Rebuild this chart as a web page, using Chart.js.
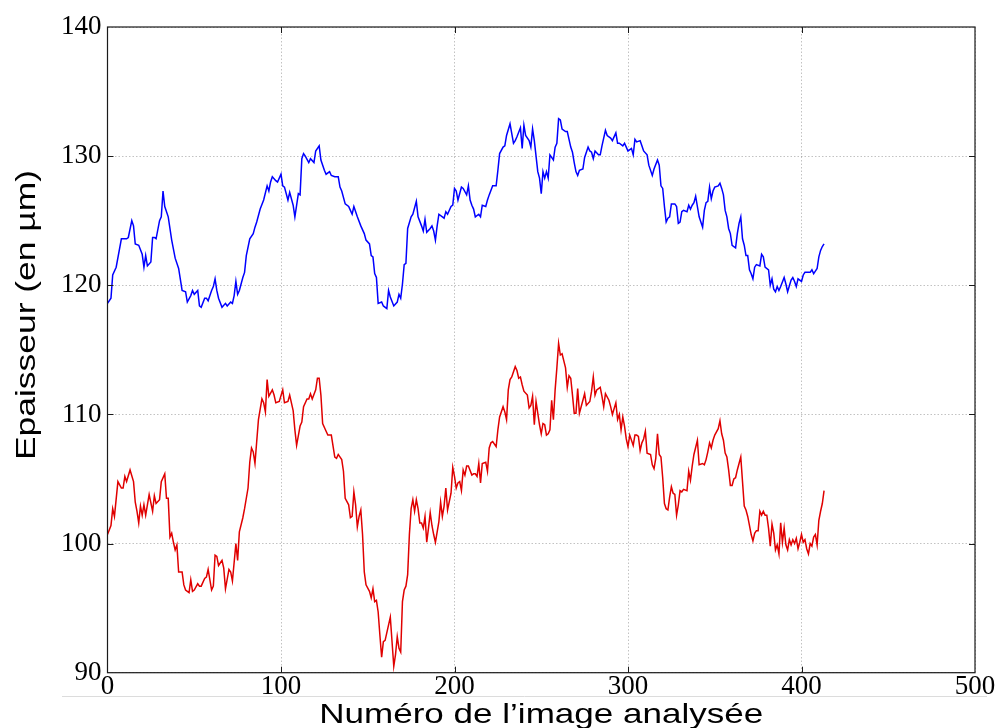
<!DOCTYPE html>
<html>
<head>
<meta charset="utf-8">
<script src="https://cdn.jsdelivr.net/npm/chart.js@4.4.1/dist/chart.umd.min.js"></script>
<style>
  html, body { margin: 0; padding: 0; background: #fff; }
  #wrap { position: relative; width: 995px; height: 728px; }
</style>
</head>
<body>
<div id="wrap"><canvas id="epaisseurChart"></canvas></div>
<script>
// Courbe bleue : numéro d'image et épaisseur (µm)
const imagesBleu = [
  0, 2, 3, 5, 8, 11, 12, 14, 15, 16,
  18, 20, 21, 22, 23, 25, 26, 27, 28, 30,
  31, 32, 33, 35, 37, 39, 41, 43, 45, 46,
  48, 49, 50, 52, 53, 54, 56, 57, 58, 60,
  61, 62, 63, 64, 66, 68, 69, 71, 72, 73,
  74, 75, 76, 78, 79, 80, 82, 84, 85, 86,
  88, 90, 92, 93, 94, 95, 97, 98, 100, 101,
  102, 104, 105, 107, 108, 110, 111, 112, 113, 114,
  116, 117, 119, 120, 122, 123, 125, 126, 128, 129,
  131, 133, 134, 135, 137, 139, 140, 141, 142, 144,
  146, 148, 149, 151, 152, 153, 154, 155, 156, 158,
  159, 161, 162, 163, 165, 167, 168, 169, 170, 171,
  172, 173, 175, 176, 178, 179, 181, 182, 183, 184,
  186, 187, 188, 189, 190, 191, 193, 194, 195, 196,
  198, 199, 200, 201, 202, 204, 205, 207, 208, 209,
  210, 211, 212, 214, 215, 216, 218, 219, 220, 222,
  224, 225, 226, 228, 229, 230, 232, 234, 235, 236,
  238, 239, 240, 241, 243, 244, 245, 246, 248, 249,
  250, 251, 252, 253, 254, 255, 257, 258, 259, 260,
  261, 262, 264, 265, 267, 268, 269, 270, 271, 272,
  274, 275, 277, 278, 279, 280, 281, 283, 284, 285,
  287, 288, 290, 291, 293, 294, 295, 297, 298, 299,
  300, 302, 303, 304, 305, 307, 308, 309, 311, 312,
  314, 315, 317, 318, 319, 320, 321, 322, 323, 324,
  325, 327, 328, 329, 330, 331, 332, 334, 335, 336,
  337, 338, 339, 340, 341, 343, 344, 345, 346, 347,
  348, 349, 350, 352, 353, 354, 355, 356, 357, 358,
  359, 360, 362, 363, 364, 365, 366, 367, 368, 369,
  370, 371, 372, 373, 374, 376, 377, 378, 379, 381,
  382, 383, 384, 385, 386, 387, 388, 390, 391, 392,
  394, 395, 396, 397, 398, 400, 401, 402, 404, 405,
  406, 407, 408, 409, 410, 411, 412, 413
];
const epaisseurBleu = [
  118.6, 119.0, 120.8, 121.4, 123.6, 123.6, 123.7, 125.0, 124.6, 123.2,
  123.1, 122.4, 121.4, 122.3, 121.5, 121.8, 123.7, 123.7, 123.6, 125.0,
  125.3, 127.3, 126.1, 125.3, 123.5, 122.1, 121.3, 119.6, 119.5, 118.7,
  119.2, 119.6, 119.3, 119.6, 118.4, 118.3, 119.0, 119.0, 118.8, 119.6,
  119.9, 120.5, 119.6, 119.0, 118.3, 118.6, 118.4, 118.7, 118.6, 119.2,
  120.3, 119.3, 119.6, 120.6, 121.0, 122.3, 123.6, 124.0, 124.5, 124.9,
  125.9, 126.6, 127.7, 127.3, 128.0, 128.4, 128.1, 128.0, 128.6, 127.7,
  127.6, 126.6, 127.2, 126.2, 125.3, 127.1, 127.0, 129.8, 130.2, 130.0,
  129.5, 129.8, 129.5, 130.4, 130.8, 129.7, 128.9, 128.6, 128.8, 128.5,
  128.4, 128.4, 127.6, 127.3, 126.3, 126.1, 125.8, 125.5, 126.1, 125.3,
  124.6, 124.0, 123.5, 123.2, 122.3, 122.2, 120.9, 120.6, 118.6, 118.7,
  118.4, 118.2, 119.6, 119.1, 118.4, 118.7, 119.3, 119.0, 120.1, 121.6,
  121.7, 124.4, 125.3, 125.5, 126.5, 125.3, 124.6, 124.2, 125.1, 124.1,
  124.4, 124.6, 124.2, 123.5, 124.6, 125.5, 125.3, 125.2, 125.7, 125.5,
  126.1, 126.2, 127.5, 127.3, 126.6, 127.6, 127.5, 127.0, 127.7, 126.6,
  126.2, 125.9, 125.3, 125.5, 125.3, 126.2, 126.1, 126.6, 127.0, 127.7,
  127.7, 128.9, 130.2, 130.7, 130.8, 131.6, 132.5, 131.0, 131.2, 131.5,
  132.2, 130.6, 132.4, 131.6, 131.2, 130.7, 132.1, 131.2, 128.8, 128.3,
  127.1, 128.8, 128.3, 128.8, 128.3, 130.1, 129.7, 130.7, 131.0, 132.9,
  132.8, 132.1, 131.9, 131.9, 130.7, 130.3, 129.5, 128.8, 128.5, 128.9,
  129.0, 129.9, 130.7, 130.4, 130.3, 129.8, 130.4, 130.1, 130.1, 130.8,
  132.0, 131.6, 131.4, 131.2, 131.8, 131.0, 131.0, 130.8, 131.0, 130.7,
  130.4, 130.6, 130.1, 131.3, 131.1, 131.2, 130.8, 130.4, 130.1, 129.3,
  128.5, 129.0, 129.7, 129.3, 127.7, 127.5, 126.1, 124.9, 125.2, 125.3,
  126.3, 126.3, 126.1, 124.8, 124.9, 125.7, 125.8, 125.7, 126.2, 125.9,
  126.2, 126.4, 126.9, 126.1, 125.3, 124.5, 125.8, 126.4, 126.5, 127.6,
  126.7, 127.3, 127.6, 127.7, 127.9, 127.5, 127.0, 125.8, 125.3, 124.4,
  124.0, 123.1, 122.9, 124.0, 124.8, 125.3, 123.6, 123.1, 122.3, 122.3,
  121.2, 120.9, 120.5, 121.4, 121.6, 121.5, 122.4, 122.2, 121.4, 121.2,
  120.0, 120.5, 119.7, 119.5, 119.9, 119.6, 119.9, 120.6, 120.1, 119.5,
  120.4, 120.6, 120.3, 119.9, 120.5, 120.3, 120.8, 121.0, 121.0, 121.0,
  121.2, 120.9, 121.1, 121.3, 122.2, 122.7, 123.0, 123.2
];

// Courbe rouge : numéro d'image et épaisseur (µm)
const imagesRouge = [
  0, 2, 3, 4, 6, 8, 9, 10, 11, 13,
  15, 16, 17, 18, 19, 20, 21, 22, 23, 24,
  26, 27, 28, 30, 31, 33, 34, 35, 36, 37,
  38, 39, 40, 41, 43, 44, 45, 47, 48, 49,
  50, 52, 53, 54, 56, 57, 58, 60, 61, 62,
  63, 64, 66, 67, 68, 70, 71, 72, 74, 75,
  76, 78, 79, 81, 82, 83, 84, 85, 86, 87,
  89, 90, 91, 92, 93, 95, 96, 97, 99, 101,
  102, 104, 105, 107, 108, 109, 111, 112, 113, 115,
  116, 117, 118, 120, 121, 122, 123, 124, 126, 127,
  129, 131, 132, 133, 135, 136, 137, 139, 140, 141,
  142, 143, 144, 145, 146, 147, 148, 149, 151, 152,
  153, 154, 155, 156, 157, 158, 159, 160, 161, 163,
  164, 165, 166, 167, 168, 169, 170, 171, 172, 173,
  174, 175, 176, 177, 178, 179, 180, 181, 182, 183,
  184, 185, 186, 187, 188, 189, 191, 192, 193, 194,
  195, 196, 198, 199, 200, 201, 202, 203, 204, 205,
  206, 207, 208, 210, 211, 212, 213, 214, 215, 216,
  218, 219, 220, 221, 222, 224, 225, 226, 228, 229,
  230, 231, 232, 233, 235, 236, 237, 238, 239, 240,
  242, 243, 244, 245, 246, 247, 249, 250, 251, 252,
  253, 254, 255, 256, 257, 258, 259, 260, 261, 262,
  264, 265, 266, 267, 268, 269, 270, 271, 272, 274,
  275, 276, 278, 279, 280, 281, 282, 284, 285, 286,
  287, 289, 290, 291, 293, 294, 295, 296, 297, 298,
  299, 300, 301, 303, 304, 305, 306, 307, 308, 309,
  310, 311, 313, 314, 315, 316, 317, 318, 319, 320,
  321, 322, 323, 324, 325, 326, 327, 328, 329, 330,
  331, 332, 334, 335, 336, 337, 338, 340, 341, 343,
  344, 345, 346, 347, 348, 349, 350, 352, 353, 354,
  355, 356, 357, 358, 359, 360, 361, 362, 363, 364,
  365, 366, 367, 368, 369, 370, 371, 372, 373, 374,
  375, 376, 377, 378, 379, 380, 381, 382, 383, 384,
  385, 386, 387, 388, 389, 390, 391, 392, 393, 394,
  395, 396, 397, 398, 399, 400, 401, 402, 403, 404,
  405, 406, 407, 408, 409, 410, 411, 412, 413
];
const epaisseurRouge = [
  100.7, 101.4, 102.7, 102.1, 104.8, 104.3, 104.3, 105.2, 104.8, 105.7,
  104.8, 103.2, 102.5, 101.6, 102.9, 102.2, 103.0, 102.2, 103.0, 103.8,
  102.5, 103.7, 103.1, 103.4, 104.8, 105.4, 103.5, 103.5, 100.5, 100.8,
  100.1, 99.5, 99.9, 97.8, 97.8, 96.8, 96.4, 96.2, 97.2, 96.3,
  96.4, 96.9, 96.7, 96.7, 97.3, 97.4, 98.0, 96.4, 96.7, 99.1,
  99.0, 98.3, 98.7, 98.1, 96.5, 98.0, 97.8, 97.1, 100.0, 98.7,
  100.9, 102.0, 102.7, 104.3, 106.3, 107.4, 107.1, 106.2, 107.9, 109.6,
  111.2, 110.9, 110.2, 112.7, 111.4, 111.9, 111.5, 110.9, 111.0, 111.9,
  110.9, 111.0, 111.5, 110.3, 108.8, 107.6, 109.1, 109.4, 110.6, 111.2,
  111.2, 111.6, 111.2, 111.9, 112.8, 112.8, 111.5, 109.3, 108.7, 108.4,
  108.4, 106.7, 106.6, 106.9, 106.5, 105.6, 103.5, 103.0, 102.0, 102.1,
  104.0, 103.0, 101.3, 102.1, 102.6, 100.7, 97.8, 96.8, 96.3, 95.8,
  96.5, 95.5, 95.6, 94.7, 92.9, 91.2, 92.4, 92.5, 93.1, 94.3,
  92.4, 90.5, 91.4, 92.8, 91.9, 91.6, 95.5, 96.4, 96.7, 97.6,
  100.7, 102.7, 103.4, 102.5, 103.4, 102.7, 101.6, 101.6, 101.2, 102.1,
  100.1, 101.2, 102.4, 101.4, 100.7, 100.1, 101.7, 103.2, 102.1, 102.9,
  104.3, 102.6, 103.9, 105.9, 105.2, 104.3, 104.7, 104.8, 104.1, 105.7,
  105.3, 106.0, 106.0, 105.3, 105.4, 105.4, 105.2, 106.2, 104.7, 106.2,
  106.3, 105.6, 107.4, 107.8, 107.9, 107.5, 108.8, 109.8, 110.6, 110.2,
  109.6, 111.9, 112.7, 112.9, 113.7, 113.4, 112.8, 112.9, 112.3, 111.8,
  111.5, 110.5, 110.7, 111.4, 109.2, 111.0, 109.2, 108.5, 109.3, 109.2,
  108.4, 108.5, 108.8, 111.1, 109.6, 111.9, 113.6, 115.5, 114.6, 114.7,
  113.6, 112.1, 113.0, 112.8, 111.5, 110.1, 110.1, 112.0, 110.1, 111.1,
  111.6, 110.7, 111.0, 111.8, 112.9, 111.5, 111.9, 112.1, 111.4, 110.6,
  111.6, 111.1, 110.6, 110.0, 110.9, 109.6, 110.0, 108.8, 109.8, 109.1,
  108.1, 107.5, 108.4, 107.6, 108.4, 108.4, 108.3, 107.2, 107.8, 108.1,
  108.7, 107.0, 106.9, 106.1, 105.8, 106.6, 108.5, 106.9, 106.7, 105.1,
  103.1, 102.7, 102.6, 103.6, 104.4, 103.9, 103.8, 102.2, 103.0, 104.1,
  104.0, 104.2, 104.1, 105.6, 104.9, 106.0, 106.9, 108.0, 106.1, 106.2,
  106.1, 106.5, 107.1, 107.8, 107.4, 108.0, 108.4, 108.9, 109.5, 108.5,
  108.0, 107.0, 106.7, 105.7, 104.5, 104.5, 105.0, 105.1, 105.7, 106.2,
  106.7, 104.8, 102.9, 102.6, 102.1, 101.4, 100.7, 100.2, 100.8, 101.0,
  101.0, 102.5, 102.2, 102.5, 102.2, 102.2, 101.2, 99.8, 101.5, 100.8,
  99.5, 99.9, 99.2, 101.6, 100.1, 101.2, 99.9, 99.5, 100.3, 99.9,
  100.3, 100.0, 100.4, 99.6, 100.1, 100.7, 100.1, 100.3, 99.6, 99.2,
  100.0, 99.8, 100.5, 100.7, 99.9, 101.8, 102.5, 103.1, 104.1
];

// Graduations et titres
const ticksX = [0, 100, 200, 300, 400, 500];
const ticksY = [90, 100, 110, 120, 130, 140];
const titreX = 'Numéro de l’image analysée';
const titreY = 'Epaisseur (en µm)';

const toPoints = (xs, ys) => xs.map((x, i) => ({ x: x, y: ys[i] }));

// Cadre noir, graduations vers l'intérieur et titres des axes (style matplotlib)
const cadrePlugin = {
    id: 'cadre',
    afterDatasetsDraw(chart) {
        const { ctx, chartArea: a, scales } = chart;
        ctx.save();
        ctx.strokeStyle = '#1a1a1a';
        ctx.lineWidth = 1.2;
        ctx.strokeRect(a.left, a.top, a.right - a.left, a.bottom - a.top);

        ctx.beginPath();
        ticksX.slice(1, -1).forEach(v => {
            const px = Math.round(scales.x.getPixelForValue(v)) + 0.5;
            ctx.moveTo(px, a.bottom); ctx.lineTo(px, a.bottom - 6);
            ctx.moveTo(px, a.top); ctx.lineTo(px, a.top + 6);
        });
        ticksY.slice(1, -1).forEach(v => {
            const py = Math.round(scales.y.getPixelForValue(v)) + 0.5;
            ctx.moveTo(a.left, py); ctx.lineTo(a.left + 6, py);
            ctx.moveTo(a.right, py); ctx.lineTo(a.right - 6, py);
        });
        ctx.lineWidth = 1;
        ctx.stroke();

        // trait gris clair sous le graphique (bord de la figure d'origine)
        ctx.strokeStyle = '#dcdcdc';
        ctx.beginPath();
        ctx.moveTo(62, 696.5); ctx.lineTo(987, 696.5);
        ctx.stroke();

        ctx.fillStyle = '#000';
        ctx.font = '28px "Liberation Sans", Arial, sans-serif';
        ctx.textAlign = 'center';
        ctx.textBaseline = 'alphabetic';

        let w = ctx.measureText(titreX).width;
        ctx.save();
        ctx.translate((a.left + a.right) / 2, 723);
        ctx.scale(444 / w, 1);
        ctx.fillText(titreX, 0, 0);
        ctx.restore();

        w = ctx.measureText(titreY).width;
        ctx.save();
        ctx.translate(35, 315);
        ctx.rotate(-Math.PI / 2);
        ctx.scale(290 / w, 1);
        ctx.fillText(titreY, 0, 0);
        ctx.restore();

        ctx.restore();
    }
};

const tickFont = { family: '"Liberation Serif", "Times New Roman", serif', size: 27 };

new Chart(document.getElementById('epaisseurChart'), {
    type: 'line',
    data: {
        datasets: [{
            label: 'bleu',
            data: toPoints(imagesBleu, epaisseurBleu),
            borderColor: '#0000ff',
            borderWidth: 1.5,
            pointRadius: 0,
            tension: 0
        }, {
            label: 'rouge',
            data: toPoints(imagesRouge, epaisseurRouge),
            borderColor: '#e00000',
            borderWidth: 1.5,
            pointRadius: 0,
            tension: 0
        }]
    },
    options: {
        responsive: true,
        maintainAspectRatio: false,
        animation: false,
        layout: { padding: { top: 27, right: 20, bottom: 0, left: 0 } },
        plugins: {
            legend: { display: false },
            tooltip: { enabled: false }
        },
        scales: {
            x: {
                type: 'linear',
                min: 0,
                max: 500,
                afterBuildTicks: s => { s.ticks = ticksX.map(v => ({ value: v })); },
                afterFit: s => { s.height = 55.3; },
                grid: { color: 'rgba(0, 0, 0, 0.3)', lineWidth: 0.8, drawTicks: false },
                border: { display: false, dash: [1.5, 2] },
                ticks: { color: '#000', font: tickFont, padding: -2, maxRotation: 0 }
            },
            y: {
                min: 90,
                max: 140,
                afterBuildTicks: s => { s.ticks = ticksY.map(v => ({ value: v })); },
                afterFit: s => { s.width = 107.5; },
                grid: { color: 'rgba(0, 0, 0, 0.3)', lineWidth: 0.8, drawTicks: false },
                border: { display: false, dash: [1.5, 2] },
                ticks: { color: '#000', font: tickFont, padding: 6 }
            }
        }
    },
    plugins: [cadrePlugin]
});
</script>
</body>
</html>
